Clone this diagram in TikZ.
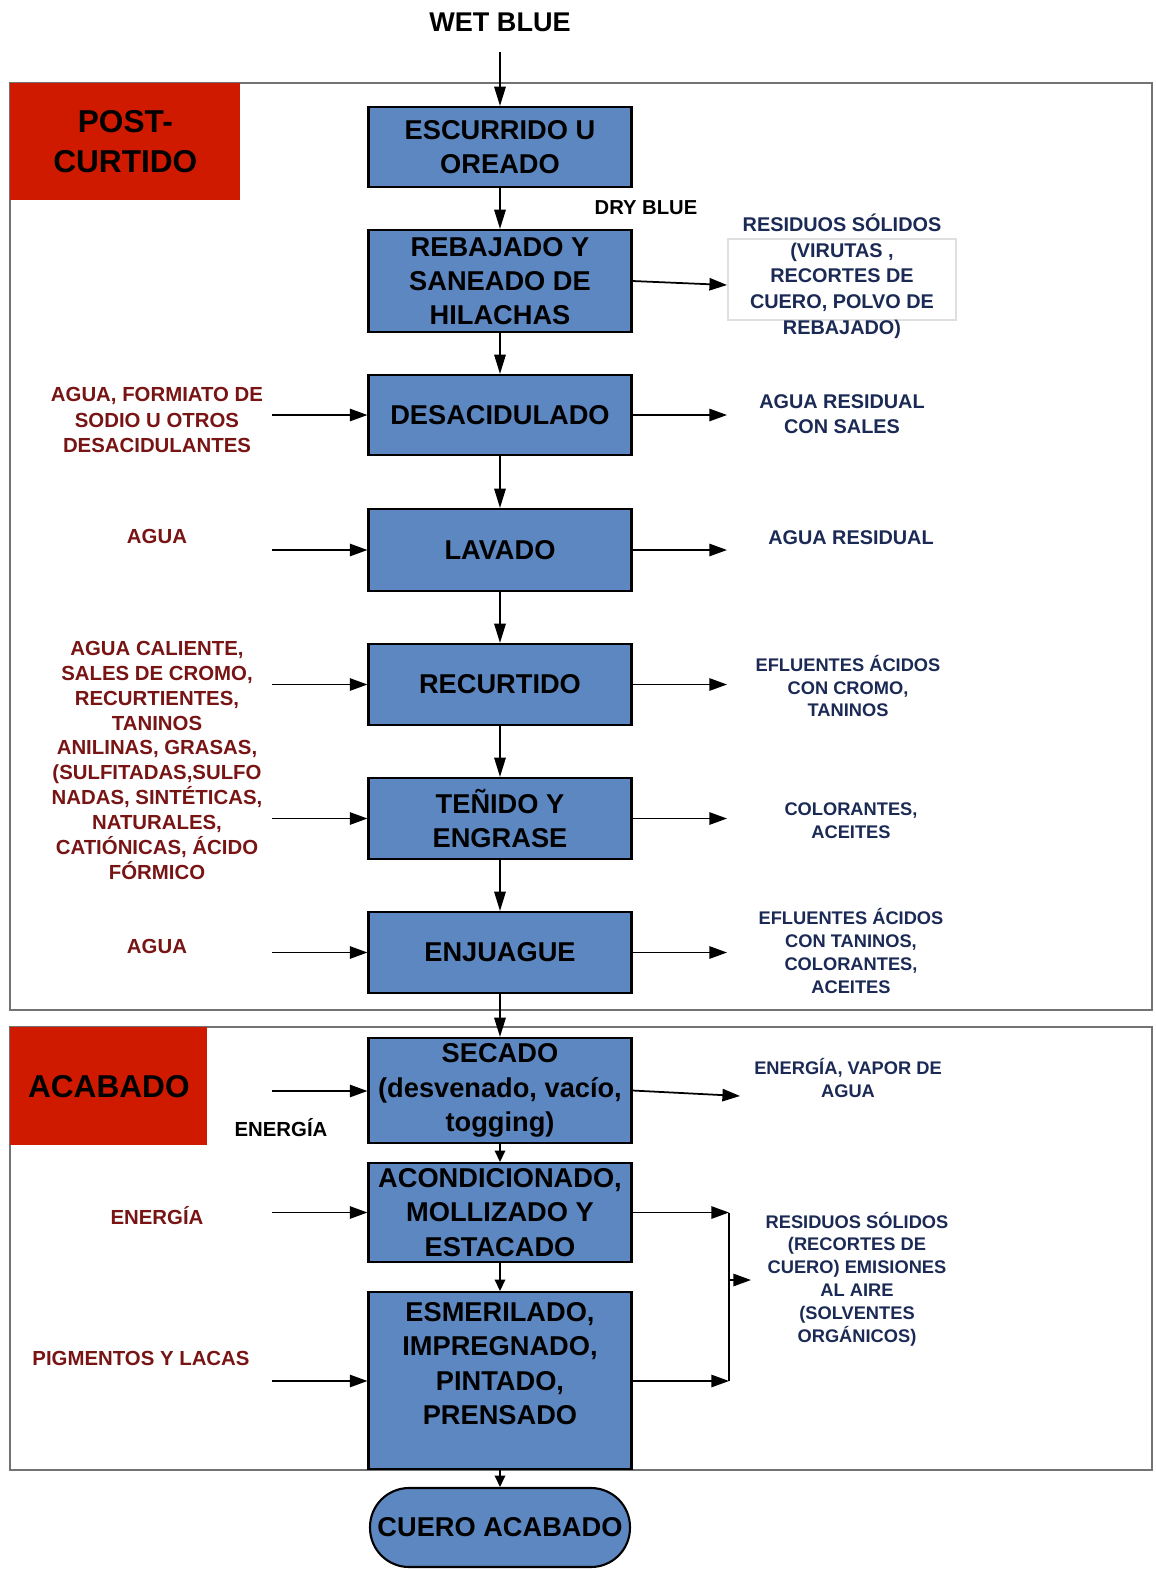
\documentclass[tikz,border=0pt]{standalone}
\usepackage{fontspec}
\setmainfont{Liberation Sans}
\usetikzlibrary{arrows.meta}
\definecolor{boxblue}{RGB}{92,135,193}
\definecolor{tagred}{RGB}{208,26,0}
\definecolor{inred}{RGB}{120,20,20}
\definecolor{outblue}{RGB}{27,42,85}

\begin{document}
\begin{tikzpicture}[x=0.02cm,y=-0.02cm,
  proc/.style={draw,line width=1.2pt,fill=boxblue,minimum width=5.26cm,align=center,inner sep=0pt,font=\bfseries\fontsize{15.5}{19.5}\selectfont},
  tag/.style={fill=tagred,anchor=north west,align=center,inner sep=0pt,font=\bfseries\fontsize{18}{22.5}\selectfont},
  inlbl/.style={text=inred,align=center,font=\bfseries\fontsize{11.6}{14.3}\selectfont},
  outlbl/.style={text=outblue,align=center,font=\bfseries\fontsize{11.3}{14.6}\selectfont},
  outsmall/.style={text=outblue,align=center,font=\bfseries\fontsize{10.4}{13}\selectfont},
  frame/.style={draw=gray!90!black,line width=1.1pt},
  flow/.style={-{Triangle[length=11pt,width=6.5pt]},line width=1pt},
  shortflow/.style={-{Triangle[length=6.5pt,width=6pt]},line width=1pt},
  side/.style={-{Triangle[length=10pt,width=7pt]},line width=1pt}]
\useasboundingbox (0,0) rectangle (1156,1570);

% sections
\draw[frame] (10,83) rectangle (1152,1010);
\draw[frame] (10,1027) rectangle (1152,1470);
\node[tag,minimum width=4.6cm,minimum height=2.34cm] (postcurtido) at (10,83) {POST-\\CURTIDO};
\node[tag,minimum width=3.94cm,minimum height=2.36cm] (acabado) at (10,1027) {ACABADO};

% main line
\node[font=\bfseries\fontsize{15.4}{18}\selectfont] (wetblue) at (500,22) {WET BLUE};
\node[proc,minimum height=1.6cm] (escurrido) at (500,147) {ESCURRIDO U\\OREADO};
\node[font=\bfseries\fontsize{11.5}{14}\selectfont] (dryblue) at (646,208) {DRY BLUE};
\node[proc,minimum height=2.04cm] (rebajado) at (500,281) {REBAJADO Y\\SANEADO DE\\HILACHAS};
\node[proc,minimum height=1.6cm] (desacidulado) at (500,415) {DESACIDULADO};
\node[proc,minimum height=1.64cm] (lavado) at (500,550) {LAVADO};
\node[proc,minimum height=1.62cm] (recurtido) at (500,684.5) {RECURTIDO};
\node[proc,minimum height=1.62cm] (tenido) at (500,818.5) {TEÑIDO Y\\ENGRASE};
\node[proc,minimum height=1.62cm] (enjuague) at (500,952.5) {ENJUAGUE};
\node[proc,minimum height=2.1cm] (secado) at (500,1090.5) {SECADO\\(desvenado, vacío,\\togging)};
\node[proc,minimum height=1.98cm] (acondicionado) at (500,1212.5) {ACONDICIONADO,\\MOLLIZADO Y\\ESTACADO};
\node[proc,minimum height=3.54cm] (esmerilado) at (500,1380.5) {ESMERILADO,\\IMPREGNADO,\\PINTADO,\\PRENSADO\\\mbox{}};
\node[proc,minimum width=5.2cm,minimum height=1.58cm,rounded corners=0.78cm] (cueroacabado) at (500,1527.5) {CUERO ACABADO};

\coordinate (wetin) at (500,52);
\draw[flow] (wetin) -- (escurrido);
\draw[flow] (escurrido) -- (rebajado);
\draw[flow] (rebajado) -- (desacidulado);
\draw[flow] (desacidulado) -- (lavado);
\draw[flow] (lavado) -- (recurtido);
\draw[flow] (recurtido) -- (tenido);
\draw[flow] (tenido) -- (enjuague);
\draw[flow] (enjuague) -- (secado);
\draw[shortflow] (secado) -- (acondicionado);
\draw[shortflow] (acondicionado) -- (esmerilado);
\draw[shortflow] (esmerilado) -- (cueroacabado);

% inputs
\node[inlbl] (indesac) at (157,420) {AGUA, FORMIATO DE\\SODIO U OTROS\\DESACIDULANTES};
\node[inlbl] (inlavado) at (157,536) {AGUA};
\node[inlbl] (inrecurt) at (157,686) {AGUA CALIENTE,\\SALES DE CROMO,\\RECURTIENTES,\\TANINOS};
\node[inlbl] (intenido) at (157,810) {ANILINAS, GRASAS,\\(SULFITADAS,SULFO\\NADAS, SINTÉTICAS,\\NATURALES,\\CATIÓNICAS, ÁCIDO\\FÓRMICO};
\node[inlbl] (inenjuague) at (157,946) {AGUA};
\node[font=\bfseries\fontsize{11.6}{14.3}\selectfont] (insecado) at (281,1128) {ENERGÍA};
\node[inlbl] (inacond) at (157,1216) {ENERGÍA};
\node[inlbl] (inesmer) at (141,1358) {PIGMENTOS Y LACAS};

\coordinate (a3) at (272,415);
\coordinate (a4) at (272,550);
\coordinate (a5) at (272,684.5);
\coordinate (a6) at (272,818.5);
\coordinate (a7) at (272,952.5);
\coordinate (a8) at (272,1091);
\coordinate (a9) at (272,1212.5);
\coordinate (a10) at (272,1381);
\draw[side] (a3) -- (desacidulado);
\draw[side] (a4) -- (lavado);
\draw[side] (a5) -- (recurtido);
\draw[side] (a6) -- (tenido);
\draw[side] (a7) -- (enjuague);
\draw[side] (a8) -- (secado.west |- a8);
\draw[side] (a9) -- (acondicionado);
\draw[side] (a10) -- (esmerilado.west |- a10);

% outputs
\draw[draw=gray!25,line width=0.8pt,fill=white] (728,239) rectangle (956,320);
\node[outlbl] (outrebaj) at (842,276) {RESIDUOS SÓLIDOS\\(VIRUTAS ,\\RECORTES DE\\CUERO, POLVO DE\\REBAJADO)};
\node[outlbl] (outdesac) at (842,414) {AGUA RESIDUAL\\CON SALES};
\node[outlbl] (outlavado) at (851,538) {AGUA RESIDUAL};
\node[outsmall] (outrecurt) at (848,686) {EFLUENTES ÁCIDOS\\CON CROMO,\\TANINOS};
\node[outsmall] (outtenido) at (851,821) {COLORANTES,\\ACEITES};
\node[outsmall] (outenjuague) at (851,951) {EFLUENTES ÁCIDOS\\CON TANINOS,\\COLORANTES,\\ACEITES};
\node[outsmall] (outsecado) at (848,1078) {ENERGÍA, VAPOR DE\\AGUA};
\node[outsmall] (outacabado) at (857,1279) {RESIDUOS SÓLIDOS\\(RECORTES DE\\CUERO) EMISIONES\\AL AIRE\\(SOLVENTES\\ORGÁNICOS)};

\coordinate (b2) at (727,285);
\coordinate (b3) at (727,415);
\coordinate (b4) at (727,550);
\coordinate (b5) at (727,684.5);
\coordinate (b6) at (727,818.5);
\coordinate (b7) at (727,952.5);
\coordinate (b8) at (740,1096);
\coordinate (mergetop) at (729,1212.5);
\coordinate (mergebot) at (729,1381);
\coordinate (mergemid) at (729,1280);
\coordinate (b9) at (751,1280);
\draw[side] (rebajado.east) -- (b2);
\draw[side] (desacidulado) -- (b3);
\draw[side] (lavado) -- (b4);
\draw[side] (recurtido) -- (b5);
\draw[side] (tenido) -- (b6);
\draw[side] (enjuague) -- (b7);
\draw[side] (secado.east) -- (b8);
\draw[side] (acondicionado) -- (mergetop);
\draw[side] (esmerilado.east |- mergebot) -- (mergebot);
\draw[line width=1pt] (mergetop) -- (mergebot);
\draw[side] (mergemid) -- (b9);
\end{tikzpicture}
\end{document}
